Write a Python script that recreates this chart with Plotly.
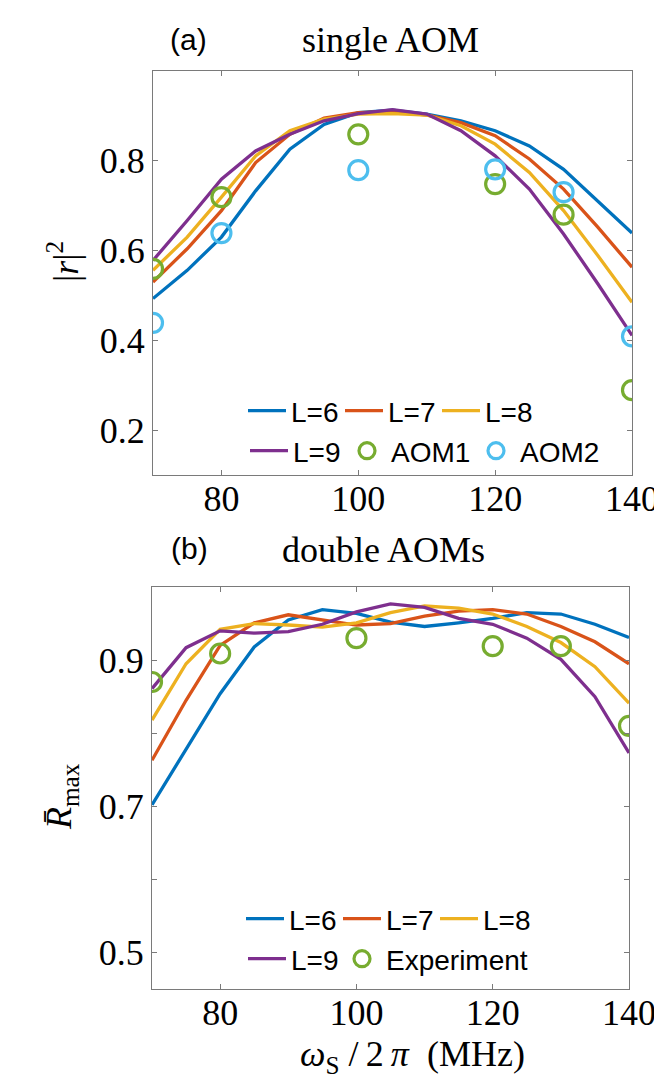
import plotly.graph_objects as go

# Signal frequency grid (MHz)
freq = [70, 75, 80, 85, 90, 95, 100, 105, 110, 115, 120, 125, 130, 135, 140]
freq_exp = [70, 80, 100, 120, 130, 140]

# (a) single AOM: |r|^2 for different L
a_L6 = [0.493, 0.556, 0.630, 0.733, 0.826, 0.881, 0.907, 0.913, 0.904, 0.889, 0.867, 0.833, 0.781, 0.711, 0.639]
a_L7 = [0.530, 0.604, 0.689, 0.796, 0.859, 0.895, 0.907, 0.910, 0.902, 0.885, 0.856, 0.804, 0.737, 0.652, 0.563]
a_L8 = [0.556, 0.630, 0.719, 0.811, 0.867, 0.893, 0.904, 0.905, 0.902, 0.878, 0.837, 0.774, 0.689, 0.589, 0.485]
a_L9 = [0.578, 0.667, 0.759, 0.822, 0.859, 0.889, 0.905, 0.914, 0.904, 0.867, 0.811, 0.737, 0.637, 0.526, 0.411]
a_aom1 = [0.559, 0.719, 0.859, 0.748, 0.680, 0.289]
a_aom2 = [0.439, 0.639, 0.779, 0.781, 0.730, 0.409]

# (b) double AOMs: mean maximum reflectivity
b_L6 = [0.702, 0.777, 0.854, 0.918, 0.955, 0.969, 0.964, 0.952, 0.946, 0.951, 0.957, 0.965, 0.963, 0.949, 0.931]
b_L7 = [0.763, 0.845, 0.920, 0.951, 0.962, 0.955, 0.948, 0.950, 0.960, 0.967, 0.969, 0.963, 0.946, 0.925, 0.895]
b_L8 = [0.818, 0.895, 0.942, 0.950, 0.948, 0.945, 0.951, 0.965, 0.974, 0.971, 0.963, 0.946, 0.924, 0.891, 0.841]
b_L9 = [0.861, 0.917, 0.940, 0.937, 0.939, 0.949, 0.966, 0.977, 0.972, 0.957, 0.949, 0.930, 0.901, 0.850, 0.773]
b_exp = [0.870, 0.909, 0.930, 0.919, 0.919, 0.810]

x_ticks = [80, 100, 120, 140]
a_y_ticks = [0.2, 0.4, 0.6, 0.8]
b_y_ticks = [0.5, 0.6, 0.7, 0.8, 0.9]
b_y_ticktext = ["0.5", "", "0.7", "", "0.9"]

C_BLUE = "#0072BD"
C_ORANGE = "#D95319"
C_YELLOW = "#EDB120"
C_PURPLE = "#7E2F8E"
C_GREEN = "#77AC30"
C_CYAN = "#4DBEEE"

W, H = 654, 1078
SERIF = "Liberation Serif"
SANS = "Liberation Sans"
LINE_W = 3.3
MK_SIZE = 19
MK_LW = 3.2


def px(x):
    return x / W


def py(y):
    return 1 - y / H


fig = go.Figure()


def line(xv, yv, name, color, xa, ya, legend, lw):
    fig.add_trace(go.Scatter(
        x=xv, y=yv, mode="lines", name=name, xaxis=xa, yaxis=ya,
        line=dict(color=color, width=LINE_W), legend=legend, legendwidth=lw))


def pts(xv, yv, name, color, xa, ya, legend, lw):
    fig.add_trace(go.Scatter(
        x=xv, y=yv, mode="markers", name=name, xaxis=xa, yaxis=ya,
        marker=dict(color=color, symbol="circle-open", size=MK_SIZE,
                    line=dict(color=color, width=MK_LW)),
        legend=legend, legendwidth=lw))


# panel (a)
line(freq, a_L6, "L=6", C_BLUE, "x", "y", "legend", 44)
line(freq, a_L7, "L=7", C_ORANGE, "x", "y", "legend", 44)
line(freq, a_L8, "L=8", C_YELLOW, "x", "y", "legend", 60)
line(freq, a_L9, "L=9", C_PURPLE, "x", "y", "legend2", 45)
pts(freq_exp, a_aom1, "AOM1", C_GREEN, "x", "y", "legend2", 76)
pts(freq_exp, a_aom2, "AOM2", C_CYAN, "x", "y", "legend2", 95)

# panel (b)
line(freq, b_L6, "L=6", C_BLUE, "x2", "y2", "legend3", 44)
line(freq, b_L7, "L=7", C_ORANGE, "x2", "y2", "legend3", 44)
line(freq, b_L8, "L=8", C_YELLOW, "x2", "y2", "legend3", 60)
line(freq, b_L9, "L=9", C_PURPLE, "x2", "y2", "legend4", 42)
pts(freq_exp, b_exp, "Experiment", C_GREEN, "x2", "y2", "legend4", 160)

axis_common = dict(
    showline=True, linecolor="#7a7a7a", linewidth=1.3, mirror="ticks",
    ticks="inside", ticklen=5, tickwidth=1.2, tickcolor="#7a7a7a",
    showgrid=False, zeroline=False, ticklabeloverflow="allow", automargin=False,
    tickfont=dict(family=SERIF, size=36, color="black"),
)
x_extra = dict(ticklabelstandoff=-8)

legend_common = dict(
    orientation="h", font=dict(family=SANS, size=28, color="black"),
    bgcolor="rgba(0,0,0,0)", borderwidth=0, itemwidth=38,
    xanchor="left", yanchor="middle", itemclick=False,
)

fig.update_layout(
    width=W, height=H, margin=dict(l=0, r=0, t=0, b=0, autoexpand=False),
    paper_bgcolor="white", plot_bgcolor="white", showlegend=True,
    xaxis=dict(domain=[px(153), px(632)], range=[70, 140], tickvals=x_ticks,
               anchor="y", **axis_common, **x_extra),
    yaxis=dict(domain=[py(475), py(71)], range=[0.1, 1.0], tickvals=a_y_ticks,
               anchor="x", **axis_common),
    xaxis2=dict(domain=[px(152), px(629)], range=[70, 140], tickvals=x_ticks,
                anchor="y2", **axis_common, **x_extra),
    yaxis2=dict(domain=[py(989), py(587)], range=[0.45, 1.0], tickvals=b_y_ticks,
                ticktext=b_y_ticktext, anchor="x2", **axis_common),
    legend=dict(x=px(243), y=py(411), **legend_common),
    legend2=dict(x=px(245), y=py(451), **legend_common),
    legend3=dict(x=px(241), y=py(919), **legend_common),
    legend4=dict(x=px(243), y=py(959), **legend_common),
)

ann = [
    dict(text="(a)", x=px(188), y=py(40), font=dict(family=SANS, size=30)),
    dict(text="single AOM", x=px(390), y=py(40), font=dict(family=SERIF, size=36)),
    dict(text="(b)", x=px(189), y=py(548), font=dict(family=SANS, size=30)),
    dict(text="double AOMs", x=px(383), y=py(550), font=dict(family=SERIF, size=36)),
    dict(text="|<i>r</i>|<sup>2</sup>", x=px(63), y=py(262), textangle=-90,
         font=dict(family=SERIF, size=36)),
    dict(text="<i>R\u0304</i><sub>max</sub>", x=px(61), y=py(797), textangle=-90,
         font=dict(family=SERIF, size=36)),
    dict(text="<i>\u03c9</i><sub>S</sub>\u2005/\u20092\u2009<i>\u03c0</i>\u2002(MHz)",
         x=px(412), y=py(1056), font=dict(family=SERIF, size=36)),
]
for a in ann:
    a["font"]["color"] = "black"
    fig.add_annotation(xref="paper", yref="paper", showarrow=False,
                       xanchor="center", yanchor="middle", **a)

fig.write_html("out.html")
